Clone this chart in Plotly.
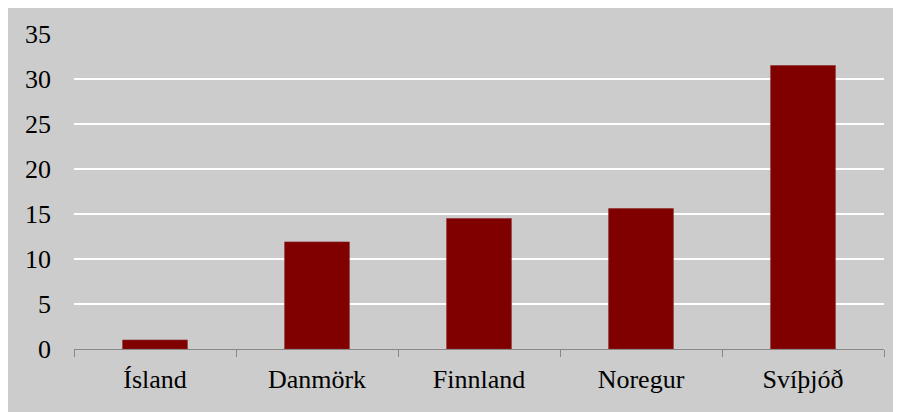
import plotly.graph_objects as go

categories = ["Ísland", "Danmörk", "Finnland", "Noregur", "Svíþjóð"]
values = [1.0, 11.9, 14.5, 15.6, 31.5]
y_ticks = [0, 5, 10, 15, 20, 25, 30, 35]

GRAY = "#cccccc"
FONT = "'Liberation Serif', 'Times New Roman', 'DejaVu Serif', serif"

fig = go.Figure(go.Bar(
    x=categories, y=values,
    marker=dict(color="#800000", line=dict(color="#8c2a2a", width=0.6)),
    width=0.4,
))

# page has an 8px body margin; figure coordinates are offset accordingly
W, H = 894, 404
L, R, T, B = 66, 18, 26, 63
pw, ph = W - L - R, H - T - B

fig.add_shape(type="rect", xref="paper", yref="paper", layer="below",
              x0=-0.2, x1=(885 - L) / pw,
              y0=-0.3, y1=1.3,
              fillcolor=GRAY, line=dict(width=0))

fig.update_layout(
    width=W, height=H,
    margin=dict(l=L, r=R, t=T, b=B),
    paper_bgcolor="white",
    plot_bgcolor=GRAY,
    font=dict(family=FONT, size=26, color="black"),
    showlegend=False,
    xaxis=dict(
        tickson="boundaries", ticks="outside", ticklen=7, tickcolor="#888888",
        tickwidth=1.2, showline=True, linecolor="#888888", linewidth=1.2,
        showgrid=False, ticklabelstandoff=7,
    ),
    yaxis=dict(
        range=[0, 35], tickvals=y_ticks, showgrid=True, gridcolor="white",
        gridwidth=1.6, zeroline=False, showline=False, ticks="",
        ticklabelstandoff=22,
    ),
)

fig.write_html("out.html")
